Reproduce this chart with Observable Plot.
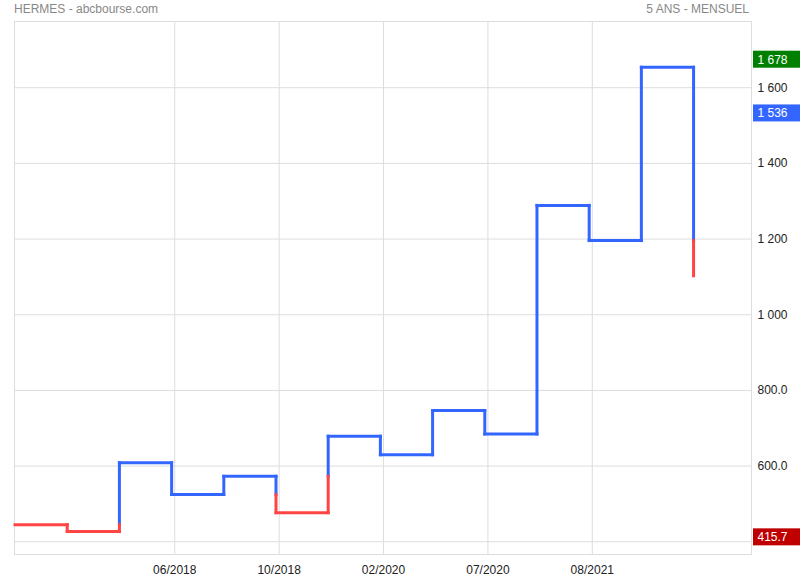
<!DOCTYPE html>
<html>
<head>
<meta charset="utf-8">
<script src="https://cdn.jsdelivr.net/npm/d3@7"></script>
<script src="https://cdn.jsdelivr.net/npm/@observablehq/plot@0.6"></script>
<style>
  html, body { margin: 0; padding: 0; background: #fff; }
  #wrap { position: relative; width: 800px; height: 580px; font-family: "Liberation Sans", Arial, sans-serif; }
  .ttl { position: absolute; top: 3px; font-size: 12px; line-height: 12px; color: #888; white-space: nowrap; }
</style>
</head>
<body>
<div id="wrap">
  <div class="ttl" style="left:14px">HERMES - abcbourse.com</div>
  <div class="ttl" style="right:51px">5 ANS - MENSUEL</div>
</div>
<script>
// Kagi levels (monthly, 5 years)
const levels = [445, 427, 609, 525, 573, 477, 679, 630, 747, 685, 1289, 1196, 1654, 1103];
const startYin = true; // first line drawn as yin (red)

// X tick labels (column positions) and Y ticks
const xTickPos = [3.06, 5.06, 7.06, 9.06, 11.06];
const xTickLabels = ["06/2018", "10/2018", "02/2020", "07/2020", "08/2021"];
const yGrid = [400, 600, 800, 1000, 1200, 1400, 1600];
const yTickLabelVals = [600, 800, 1000, 1200, 1400, 1600];

// Value boxes on the right axis
const boxValues = [1678, 1536, 415.7];
const boxLabels = ["1 678", "1 536", "415.7"];
const boxColors = ["#008000", "#3366ff", "#c00000"];

const BLUE = "#3366ff", RED = "#ff4444";

// Build Kagi segments, colour switching when a shoulder/waist is broken
const segs = [];
let yin = startYin;
for (let i = 0; i < levels.length - 1; i++) {
  const a = levels[i], b = levels[i + 1];
  segs.push({x1: i, x2: i + 1, y1: a, y2: a, yin});
  const prev = i > 0 ? levels[i - 1] : null;
  if (prev !== null && b > a && yin && b > prev) {
    segs.push({x1: i + 1, x2: i + 1, y1: a, y2: prev, yin: true});
    segs.push({x1: i + 1, x2: i + 1, y1: prev, y2: b, yin: false});
    yin = false;
  } else if (prev !== null && b < a && !yin && b < prev) {
    segs.push({x1: i + 1, x2: i + 1, y1: a, y2: prev, yin: false});
    segs.push({x1: i + 1, x2: i + 1, y1: prev, y2: b, yin: true});
    yin = true;
  } else {
    segs.push({x1: i + 1, x2: i + 1, y1: a, y2: b, yin});
  }
}

const xMax = 14.11;
const boxes = boxValues.map((v, i) => ({v, label: boxLabels[i], fill: boxColors[i]}));
const fmtY = d => d >= 1000 ? d3.format(",")(d).replace(/,/g, " ") : d.toFixed(1);

const chart = Plot.plot({
  width: 800,
  height: 580,
  marginLeft: 14,
  marginRight: 49,
  marginTop: 21,
  marginBottom: 26,
  style: {fontFamily: "'Liberation Sans', Arial, sans-serif", fontSize: "12px", color: "#222", background: "#fff"},
  x: {domain: [-0.01, xMax], ticks: xTickPos, tickFormat: d => xTickLabels[xTickPos.indexOf(d)], tickSize: 0, tickPadding: 11, label: null},
  y: {domain: [366.4, 1775], ticks: yTickLabelVals, tickFormat: fmtY, tickSize: 0, tickPadding: 6, axis: "right", label: null},
  marks: [
    Plot.ruleY(yGrid, {stroke: "#dddddd", strokeWidth: 1}),
    Plot.ruleX(xTickPos, {stroke: "#dddddd", strokeWidth: 1}),
    Plot.frame({stroke: "#dddddd"}),
    Plot.link(segs.filter(s => !s.yin), {x1: "x1", y1: "y1", x2: "x2", y2: "y2", stroke: BLUE, strokeWidth: 3, strokeLinecap: "square"}),
    Plot.link(segs.filter(s => s.yin), {x1: "x1", y1: "y1", x2: "x2", y2: "y2", stroke: RED, strokeWidth: 3, strokeLinecap: "square"}),
    Plot.rect(boxes, {x1: () => xMax, x2: () => xMax, y1: "v", y2: "v", fill: "fill", insetLeft: 2, insetRight: -49, insetTop: -7, insetBottom: -10}),
    Plot.text(boxes, {x: () => xMax, y: "v", text: "label", dx: 6, dy: 1.5, textAnchor: "start", fill: "white", fontSize: 12})
  ]
});
document.getElementById("wrap").prepend(chart);
</script>
</body>
</html>
